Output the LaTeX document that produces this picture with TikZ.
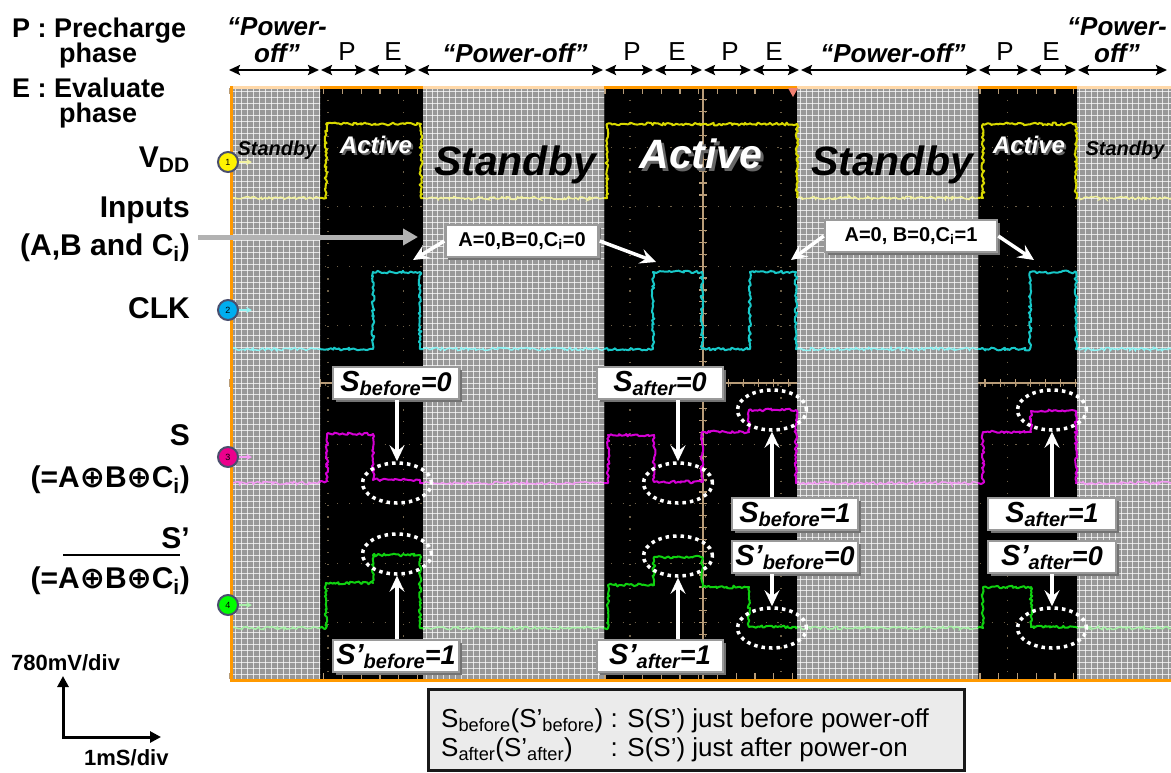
\documentclass[tikz,border=0pt]{standalone}
\usepackage{fontspec}
\setmainfont{Liberation Sans}
\newfontfamily\symf{DejaVu Sans}
\usetikzlibrary{arrows.meta,decorations.pathmorphing,shadows,shapes.geometric}
\newcommand\fsz[1]{\fontsize{#1}{#1}\selectfont}
\newcommand\slab[3]{{\fsz{29}#1}{\fsz{20}\raisebox{-4pt}{#2}}{\fsz{27}#3}}
\newcommand\oplusb{{\symf ⊕}}
\newcommand\shtext[2]{{\color{black!60}\rlap{\kern#1\raisebox{-#1}{#2}}}#2}
\definecolor{vddc}{HTML}{D8D800}
\definecolor{vddp}{HTML}{F2F2A0}
\definecolor{clkc}{HTML}{18C8C8}
\definecolor{clkp}{HTML}{90F4F4}
\definecolor{sc}{HTML}{D400D4}
\definecolor{sp}{HTML}{F49CF4}
\definecolor{spc}{HTML}{10D010}
\definecolor{spp}{HTML}{A8F0A8}
\definecolor{gridg}{HTML}{989898}
\definecolor{tanc}{HTML}{B89C78}
\definecolor{dotc}{HTML}{6E6048}
\definecolor{orng}{HTML}{FF9900}
\definecolor{peach}{HTML}{FFD8A8}
\definecolor{lgbg}{HTML}{EBEBEB}
\definecolor{bxbd}{HTML}{9A9A9A}
\definecolor{mkbd}{HTML}{4A4F6E}
\definecolor{trig}{HTML}{F08070}
\begin{document}
\begin{tikzpicture}[x=1pt,y=-1pt,
  trace/.style={line width=2pt, line join=round, decorate, decoration={random steps,segment length=2pt,amplitude=1.4pt}},
  ptrace/.style={line width=1.5pt, decorate, decoration={random steps,segment length=2pt,amplitude=1.5pt}},
  gratdot/.style={draw=dotc, line width=1.2pt, dash pattern=on 1.2pt off 10.7pt},
  tanl/.style={draw=tanc, line width=1.2pt},
  gridl/.style={draw=white, line width=0.9pt, opacity=.72},
  lab/.style={font=\fsz{30}\bfseries, inner sep=0pt},
  leg/.style={font=\fsz{27}\bfseries, inner sep=0pt, anchor=base west},
  pw/.style={font=\fsz{26}\bfseries\itshape, inner sep=0pt, anchor=base},
  pe/.style={font=\fsz{26}, inner sep=0pt, anchor=base},
  phar/.style={draw=black, line width=2.5pt, {Stealth[length=11pt,width=10pt,inset=2pt]}-{Stealth[length=11pt,width=10pt,inset=2pt]}, shorten <=1pt, shorten >=1pt},
  sbytxt/.style={text=black, inner sep=0pt, anchor=base},
  acttxt/.style={text=white, inner sep=0pt, anchor=base},
  sbox/.style={draw=bxbd, line width=2.5pt, fill=white, minimum width=126pt, minimum height=32pt, inner sep=0pt, font=\bfseries\itshape,
     drop shadow={shadow xshift=2.5pt, shadow yshift=-2.5pt, fill=black!55, opacity=1}},
  abox/.style={draw=bxbd, line width=2.5pt, fill=white, minimum height=32pt, inner sep=0pt, font=\fsz{20}\bfseries,
     drop shadow={shadow xshift=2.5pt, shadow yshift=-2.5pt, fill=black!55, opacity=1}},
  ell/.style={ellipse, draw=white, line width=3.5pt, dash pattern=on 3.5pt off 4pt, minimum width=69pt, minimum height=40pt, inner sep=0pt},
  warr/.style={draw=white, line width=3.5pt, -{Stealth[length=16pt,width=15pt,inset=6pt]}},
  chm/.style={circle, draw=mkbd, line width=2pt, minimum size=20pt, inner sep=0pt, font=\fsz{9}},
  charr/.style={line width=1.5pt, -{Stealth[length=6pt,width=6pt]}}
]
\pgfmathsetseed{11}
\useasboundingbox (0,0) rectangle (1171,772);
\fill[white] (0,0) rectangle (1171,772);

% ---------- oscilloscope screen ----------
\fill[black] (230,86) rectangle (1171,681);
\foreach \k in {1,...,9} \draw[gratdot] (230,{88+59.4*\k}) -- (1171,{88+59.4*\k});
\foreach \k in {0,...,11} \draw[gratdot] ({328+75.5*\k},88) -- ({328+75.5*\k},679);
\draw[tanl] (703,88) -- (703,679);
\draw[tanl] (230,383) -- (1171,383);
\foreach \k in {0,...,49} \draw[tanl] (699,{88+11.88*\k}) -- (707,{88+11.88*\k});
\foreach \k in {0,...,62} \draw[tanl] ({230+15.1*\k},379) -- ({230+15.1*\k},387);
\foreach \k in {0,...,50} {\draw[tanl] ({230+18.75*\k},88) -- ({230+18.75*\k},94);
  \draw[tanl] ({230+18.75*\k},673) -- ({230+18.75*\k},679);}

% standby (grey) regions
\begin{scope}
\clip (232,88) rectangle (320,679) (423,88) rectangle (604,679) (797,88) rectangle (978,679) (1077,88) rectangle (1171,679);
\fill[gridg] (230,86) rectangle (1171,681);
\foreach \i in {0,...,158} \draw[gridl] ({230+5.94*\i},86) -- ({230+5.94*\i},681);
\foreach \i in {0,...,100} \draw[gridl] (230,{86+5.94*\i}) -- (1171,{86+5.94*\i});
\end{scope}

% ---------- traces in standby regions ----------
\foreach \a/\b in {232/320,423/604,797/978,1077/1171} {
  \draw[ptrace,vddp] (\a,198) -- (\b,198);
  \draw[ptrace,clkp] (\a,349) -- (\b,349);
  \draw[ptrace,sp] (\a,483) -- (\b,483);
  \draw[ptrace,spp] (\a,628) -- (\b,628);
}
% ---------- traces in active regions ----------
% VDD
\draw[trace,vddc] (320,198) -- (326,198) -- (326,124) -- (421,124) -- (421,198) -- (423,198);
\draw[trace,vddc] (604,198) -- (607,198) -- (607,124) -- (797,124) -- (797,198);
\draw[trace,vddc] (978,198) -- (983,198) -- (983,124) -- (1076,124) -- (1076,198) -- (1077,198);
% CLK
\draw[trace,clkc] (320,349) -- (373,349) -- (373,272) -- (420,272) -- (420,349) -- (423,349);
\draw[trace,clkc] (604,349) -- (653,349) -- (653,272) -- (702,272) -- (702,349) -- (750,349) -- (750,272) -- (796,272) -- (796,349) -- (797,349);
\draw[trace,clkc] (978,349) -- (1030,349) -- (1030,272) -- (1076,272) -- (1076,349) -- (1077,349);
% S
\draw[trace,sc] (320,481) -- (327,481) -- (327,434) -- (373,434) -- (373,480) -- (420,480) -- (420,483) -- (423,483);
\draw[trace,sc] (604,483) -- (608,483) -- (608,435) -- (654,435) -- (654,482) -- (702,482) -- (702,432) -- (749,432) -- (749,410) -- (796,410) -- (796,483) -- (797,483);
\draw[trace,sc] (978,483) -- (983,483) -- (983,432) -- (1031,432) -- (1031,411) -- (1076,411) -- (1076,483) -- (1077,483);
% S'
\draw[trace,spc] (320,628) -- (326,628) -- (326,583) -- (373,583) -- (373,555) -- (420,555) -- (420,628) -- (423,628);
\draw[trace,spc] (604,628) -- (608,628) -- (608,585) -- (654,585) -- (654,557) -- (702,557) -- (702,587) -- (749,587) -- (749,627) -- (796,627) -- (796,628) -- (797,628);
\draw[trace,spc] (978,628) -- (983,628) -- (983,587) -- (1031,587) -- (1031,627) -- (1076,627) -- (1077,628);

% ---------- frame ----------
\draw[peach, line width=3pt] (230,87) -- (1171,87);
\foreach \a/\b in {320/423,604/797,978/1077} \draw[orng, line width=3pt] (\a,87) -- (\b,87);
\draw[orng, line width=3pt] (231,86) -- (231,681);
\draw[orng, line width=3pt] (230,680.5) -- (1171,680.5);
\fill[trig] (788,88) -- (798,88) -- (793,97) -- cycle;

% channel markers
\node[chm, fill=yellow] (ch1) at (228,162) {1};
\node[chm, fill=cyan] (ch2) at (228,310) {2};
\node[chm, fill=magenta] (ch3) at (228,457) {3};
\node[chm, fill=green] (ch4) at (228,605) {4};
\coordinate (ch1t) at (252,162);
\coordinate (ch2t) at (252,310);
\coordinate (ch3t) at (252,457);
\coordinate (ch4t) at (252,605);
\draw[charr, vddp] (ch1.east) -- (ch1t);
\draw[charr, clkp] (ch2.east) -- (ch2t);
\draw[charr, sp] (ch3.east) -- (ch3t);
\draw[charr, spp] (ch4.east) -- (ch4t);

% ---------- Standby / Active texts ----------
\node[sbytxt, font=\fsz{20}\bfseries\itshape] (sby1) at (277,155) {Standby};
\node[sbytxt, font=\fsz{41}\bfseries\itshape] (sby2) at (515,175) {Standby};
\node[sbytxt, font=\fsz{41}\bfseries\itshape] (sby3) at (892,175) {Standby};
\node[sbytxt, font=\fsz{20}\bfseries\itshape] (sby4) at (1125,155) {Standby};
\node[acttxt, font=\fsz{24}\bfseries\itshape] (act1) at (376,153) {\shtext{2pt}{Active}};
\node[acttxt, font=\fsz{41}\bfseries\itshape] (act2) at (701,168) {\shtext{3pt}{Active}};
\node[acttxt, font=\fsz{24}\bfseries\itshape] (act3) at (1029,153) {\shtext{2pt}{Active}};

% ---------- top phase labels and arrows ----------
\node[pw] (pw1a) at (277,35) {“Power-};
\node[pw] (pw1b) at (277,62) {off”};
\node[pw] (pw2) at (515,62) {“Power-off”};
\node[pw] (pw3) at (893,62) {“Power-off”};
\node[pw] (pw4a) at (1117,35) {“Power-};
\node[pw] (pw4b) at (1117,62) {off”};
\node[pe] (p1) at (347,60) {P};
\node[pe] (e1l) at (393,60) {E};
\node[pe] (p2) at (632,60) {P};
\node[pe] (e2l) at (677,60) {E};
\node[pe] (p3) at (730,60) {P};
\node[pe] (e3l) at (774,60) {E};
\node[pe] (p4) at (1005,60) {P};
\node[pe] (e4l) at (1051,60) {E};
\foreach \n/\x in {0/228,1/320,2/367,3/417,4/604,5/654,6/703,7/752,8/800,9/978,10/1029,11/1077,12/1168}
  \coordinate (t\n) at (\x,70);
\foreach \a/\b in {0/1,1/2,2/3,3/4,4/5,5/6,6/7,7/8,8/9,9/10,10/11,11/12}
  \draw[phar] (t\a) -- (t\b);

% ---------- left labels ----------
\node[leg] (lp1) at (12,37) {P : Precharge};
\node[leg] (lp2) at (59,62) {phase};
\node[leg] (le1) at (12,97) {E : Evaluate};
\node[leg] (le2) at (59,122) {phase};
\node[lab, anchor=base east] (vdd) at (190,167) {V\textsubscript{DD}};
\node[lab, anchor=base east] (inp1) at (190,217) {Inputs};
\node[lab, anchor=base east] (inp2) at (190,255) {(A,B and C\textsubscript{i})};
\node[lab, anchor=base east] (clk) at (190,318) {CLK};
\node[lab, anchor=base east] (slab1) at (190,445) {S};
\node[lab, anchor=base east] (sexp) at (190,487) {(=A\oplusb B\oplusb C\textsubscript{i})};
\node[lab, anchor=base east] (splab) at (190,548) {S’};
\node[lab, anchor=base east] (spexp) at (190,588) {(=A\oplusb B\oplusb C\textsubscript{i})};
\draw[line width=2.5pt] (63,555) -- (180,555);

% inputs arrow
\coordinate (inT) at (418,237);
\draw[draw=black!30, line width=5pt, -{Triangle[length=15pt,width=16pt]}] (inp2.east |- inT) ++(8,0) -- (inT);

% scale
\node[font=\fsz{22}\bfseries, inner sep=0pt, anchor=base west] (vdiv) at (11,670) {780mV/div};
\node[font=\fsz{22}\bfseries, inner sep=0pt, anchor=base west] (tdiv) at (84,765) {1mS/div};
\coordinate (ax0) at (63,737);
\coordinate (axY) at (63,676);
\coordinate (axX) at (161,737);
\draw[line width=3pt, {Triangle[length=11pt,width=11pt]}-{Triangle[length=11pt,width=11pt]}] (axY) -- (ax0) -- (axX);

% ---------- input boxes ----------
\node[abox, minimum width=153pt] (bA) at (522,241) {A=0,B=0,C\textsubscript{i}=0};
\node[abox, minimum width=172pt] (bB) at (911,236) {A=0, B=0,C\textsubscript{i}=1};
\coordinate (tA1) at (413,260);
\coordinate (tA2) at (656,262);
\coordinate (tB1) at (791,260);
\coordinate (tB2) at (1034,260);
\draw[warr] (bA.west) -- (tA1);
\draw[warr] (bA.east) -- (tA2);
\draw[warr] (bB.west) -- (tB1);
\draw[warr] (bB.east) -- (tB2);

% ---------- ellipses ----------
\node[ell] (eS1) at (397,483) {};
\node[ell] (eP1) at (397,554) {};
\node[ell] (eS2) at (678,483) {};
\node[ell] (eP2) at (678,556) {};
\node[ell] (eS3) at (772,410) {};
\node[ell] (eP3) at (772,628) {};
\node[ell] (eS4) at (1052,410) {};
\node[ell] (eP4) at (1052,628) {};

% ---------- S labels ----------
\node[sbox] (sb0) at (396,383) {\slab{S}{before}{=0}};
\node[sbox] (sa0) at (660,383) {\slab{S}{after}{=0}};
\node[sbox] (spb1) at (396,656) {\slab{S’}{before}{=1}};
\node[sbox] (spa1) at (660,656) {\slab{S’}{after}{=1}};
\node[sbox] (sb1) at (795,514) {\slab{S}{before}{=1}};
\node[sbox] (spb0) at (795,557) {\slab{S’}{before}{=0}};
\node[sbox, minimum width=128pt] (sa1) at (1052,514) {\slab{S}{after}{=1}};
\node[sbox, minimum width=128pt] (spa0) at (1052,557) {\slab{S’}{after}{=0}};

\draw[warr] (sb0.south -| eS1) -- (eS1);
\draw[warr] (sa0.south -| eS2) -- (eS2);
\draw[warr] (spb1.north -| eP1) -- (eP1);
\draw[warr] (spa1.north -| eP2) -- (eP2);
\draw[warr] (sb1.north -| eS3) -- (eS3);
\draw[warr] (spb0.south -| eP3) -- (eP3);
\draw[warr] (sa1.north -| eS4) -- (eS4);
\draw[warr] (spa0.south -| eP4) -- (eP4);

% ---------- legend ----------
\node[draw=black!90, line width=3pt, fill=lgbg, minimum width=536pt, minimum height=81pt, inner sep=0pt] (legend) at (696.5,729.5) {};
\node[font=\fsz{26}, inner sep=0pt, anchor=base west] (l1a) at (441,727) {S\textsubscript{before}(S’\textsubscript{before})};
\node[font=\fsz{26}, inner sep=0pt, anchor=base west] (l1b) at ([xshift=7pt]l1a.base east) {: S(S’) just before power-off};
\node[font=\fsz{26}, inner sep=0pt, anchor=base west] (l2a) at (441,756) {S\textsubscript{after}(S’\textsubscript{after})};
\node[font=\fsz{26}, inner sep=0pt, anchor=base west] (l2b) at (l1b.base west |- l2a.base) {: S(S’) just after power-on};
\end{tikzpicture}
\end{document}
